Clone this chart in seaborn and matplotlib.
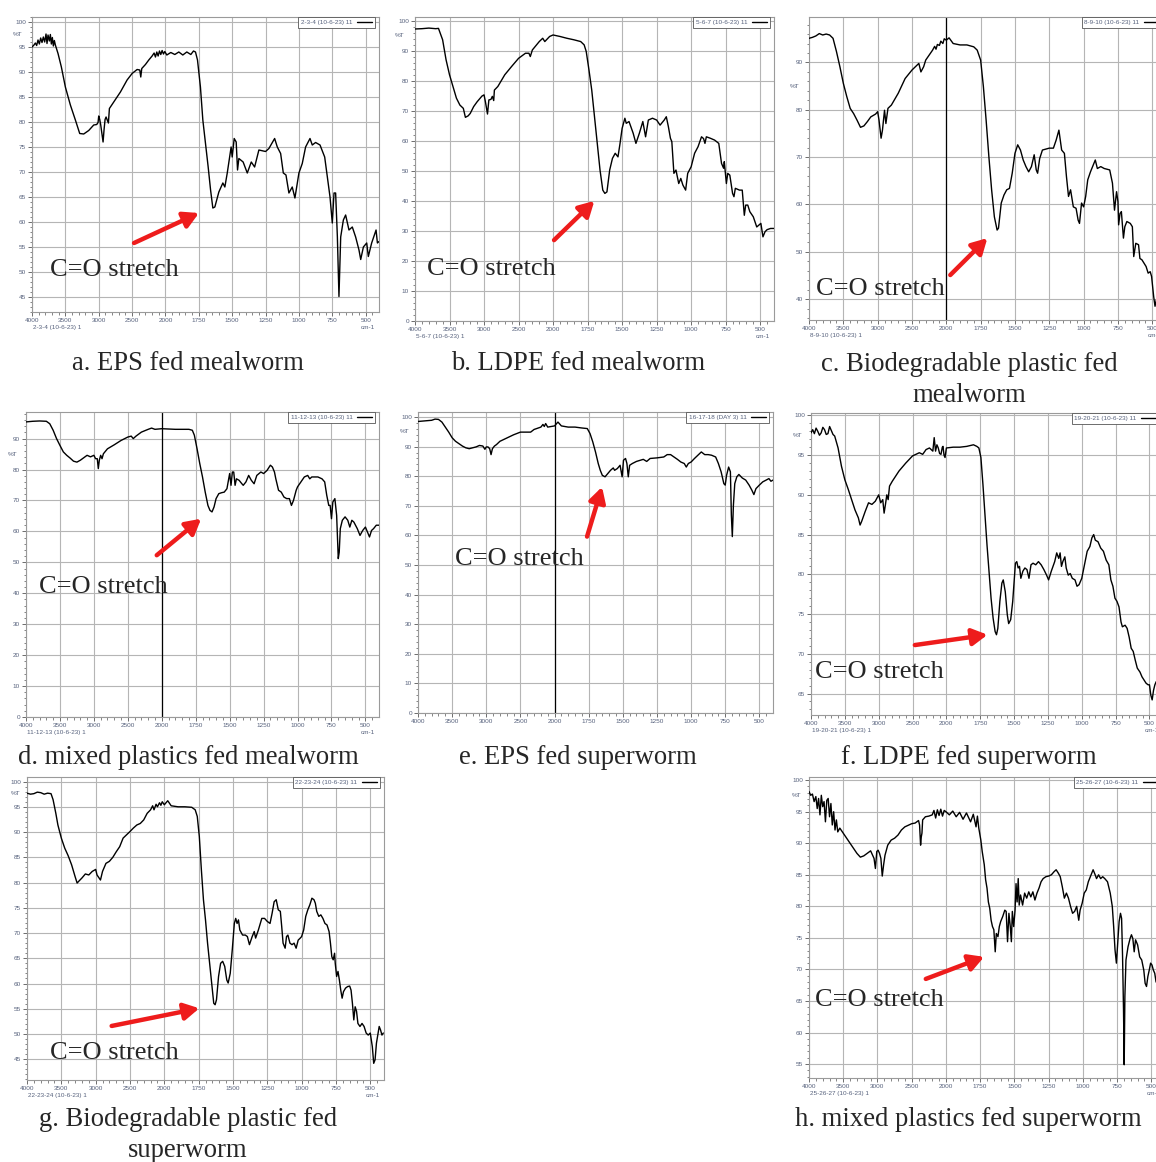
import numpy as np
import pandas as pd
import matplotlib
matplotlib.use("Agg")
import matplotlib.pyplot as plt
from matplotlib.ticker import FixedLocator, MultipleLocator
from matplotlib.transforms import blended_transform_factory
import seaborn as sns

# ---------------- FTIR spectra: (wavenumber cm-1, %T) ----------------
a_spec = [(4000,95.0),(3970,95.4),(3950,95.8),(3930,95.3),(3910,96.4),(3890,95.6),(3870,96.8),(3850,95.9),
          (3830,97.0),(3810,96.0),(3790,97.6),(3775,95.7),(3760,97.4),(3740,96.2),(3725,97.5),(3710,95.6),
          (3695,96.9),(3680,95.2),(3665,96.3),(3650,95.4),(3610,93.7),(3560,91.0),(3500,87.0),(3425,83.4),
          (3350,80.4),(3285,77.7),(3225,77.6),(3150,78.3),(3075,79.4),(3030,79.5),(3010,79.9),(3000,81.2),
          (2985,80.5),(2970,79.4),(2950,77.5),(2935,76.0),(2920,78.5),(2905,80.5),(2890,81.0),(2870,80.3),
          (2855,79.8),(2840,82.7),(2775,84.0),(2675,86.0),(2575,88.4),(2500,89.7),(2425,90.5),(2385,90.4),
          (2370,89.0),(2355,90.7),(2300,91.5),(2250,92.4),(2200,93.2),(2170,93.8),(2150,93.0),(2130,94.0),
          (2110,93.2),(2090,94.2),(2070,93.5),(2050,94.3),(2030,93.6),(2010,94.1),(1990,93.4),(1960,93.9),
          (1930,93.5),(1900,94.0),(1870,93.4),(1840,94.0),(1810,93.5),(1790,94.2),(1775,94.0),(1760,92.4),
          (1738,87.0),(1720,80.4),(1700,75.7),(1680,71.0),(1662,66.4),(1645,62.8),(1630,63.0),(1615,64.5),
          (1600,66.0),(1570,67.8),(1555,67.0),(1537,69.8),(1525,72.0),(1508,75.0),(1500,73.0),(1485,76.7),
          (1470,76.0),(1460,70.4),(1450,72.7),(1418,72.0),(1387,69.8),(1357,72.0),(1332,71.0),(1300,74.4),
          (1250,74.1),(1225,74.7),(1182,76.7),(1162,75.0),(1137,73.7),(1117,69.8),(1097,69.4),(1075,65.8),
          (1050,67.0),(1030,64.8),(1000,69.8),(975,71.7),(950,75.0),(917,76.7),(900,75.4),(875,75.9),
          (842,75.4),(807,73.0),(787,69.0),(767,65.0),(750,59.8),(737,65.8),(725,65.8),(712,57.1),
          (700,45.1),(687,57.0),(667,60.4),(650,61.4),(625,58.4),(600,59.0),(575,57.0),(550,54.4),
          (537,52.5),(517,55.0),(492,55.8),(480,53.1),(455,55.8),(430,57.8),(422,58.4),(412,55.8),(400,56.1)]

b_spec = [(4000,97.5),(3900,97.6),(3800,97.8),(3700,97.6),(3660,97.7),(3600,93.9),(3550,87.2),(3500,82.2),
          (3450,78.3),(3400,74.4),(3350,72.1),(3300,71.0),(3270,68.0),(3230,68.5),(3200,69.3),(3150,71.6),
          (3100,73.2),(3030,75.1),(3000,75.5),(2980,73.2),(2950,69.1),(2930,73.8),(2900,74.0),(2880,75.0),
          (2860,73.6),(2850,77.1),(2800,78.3),(2700,82.2),(2600,85.0),(2500,87.7),(2400,89.4),(2350,89.4),
          (2330,88.3),(2300,90.5),(2200,93.3),(2150,94.4),(2120,93.3),(2050,95.0),(2000,95.5),(1950,95.0),
          (1900,94.4),(1850,93.9),(1800,93.3),(1775,92.2),(1760,90.0),(1740,83.8),(1720,77.1),(1700,68.2),
          (1680,59.3),(1660,50.4),(1640,43.7),(1625,42.6),(1610,43.1),(1590,50.4),(1570,54.3),(1550,56.0),
          (1530,54.8),(1515,59.3),(1500,64.3),(1480,67.7),(1470,66.0),(1450,66.6),(1420,62.7),(1400,59.3),
          (1375,62.7),(1350,66.6),(1330,61.5),(1310,67.1),(1280,67.7),(1250,67.1),(1225,65.4),(1195,67.1),
          (1180,68.2),(1165,64.9),(1150,61.0),(1140,59.9),(1125,49.3),(1110,50.4),(1090,45.9),(1075,47.6),
          (1060,45.4),(1040,43.7),(1025,49.3),(1000,51.5),(975,56.0),(950,58.2),(925,61.5),(910,60.9),
          (900,59.3),(890,61.5),(860,61.0),(830,60.4),(800,59.3),(780,52.6),(765,51.0),(760,53.2),
          (745,45.9),(735,49.3),(720,48.7),(700,42.6),(690,41.5),(680,44.3),(650,43.7),(630,43.7),
          (615,35.3),(605,38.7),(590,38.7),(575,36.5),(550,34.8),(525,31.4),(510,32.0),(495,32.6),
          (480,28.1),(465,29.8),(450,30.5),(425,30.9),(400,30.9)]

c_spec = [(4000,95.1),(3950,95.3),(3900,95.6),(3850,96.1),(3800,95.8),(3750,96.0),(3700,95.8),(3650,95.1),
          (3600,92.3),(3550,89.1),(3500,85.6),(3450,82.8),(3400,80.3),(3350,79.2),(3300,77.8),(3250,76.3),
          (3200,76.6),(3150,77.5),(3100,78.5),(3030,79.1),(3000,79.6),(2980,77.8),(2950,74.0),(2930,75.7),
          (2900,79.9),(2880,77.1),(2850,80.3),(2800,81.0),(2700,83.5),(2600,86.6),(2500,88.4),(2450,89.1),
          (2400,89.8),(2370,88.0),(2330,89.1),(2300,90.5),(2200,92.6),(2170,93.4),(2150,92.8),(2130,93.8),
          (2100,93.6),(2080,94.5),(2050,94.0),(2030,95.0),(2000,94.7),(1980,95.2),(1950,94.0),(1900,93.7),
          (1850,93.7),(1800,93.3),(1775,92.6),(1750,90.5),(1730,84.9),(1710,77.8),(1690,70.1),(1670,63.1),
          (1650,57.4),(1630,54.6),(1620,55.0),(1600,60.3),(1580,62.0),(1560,63.1),(1540,63.4),(1520,66.6),
          (1500,70.8),(1480,72.6),(1460,71.5),(1440,69.4),(1420,68.0),(1400,66.9),(1380,68.0),(1360,70.5),
          (1345,67.3),(1335,66.6),(1320,69.7),(1300,71.5),(1250,71.9),(1220,71.9),(1200,73.6),(1180,75.7),
          (1160,71.5),(1140,70.8),(1125,65.9),(1110,61.7),(1095,63.1),(1075,59.5),(1055,59.2),(1040,56.7),
          (1030,56.0),(1015,60.3),(1000,59.5),(985,61.7),(970,65.2),(950,66.9),(930,68.3),(915,69.4),
          (900,67.6),(875,68.0),(850,67.6),(810,67.3),(790,64.5),(775,58.8),(760,62.7),(750,60.6),
          (745,55.7),(735,58.1),(725,58.5),(710,52.9),(700,55.3),(685,56.4),(660,56.0),(645,55.3),
          (635,49.0),(620,51.8),(600,51.5),(590,48.6),(575,48.3),(560,47.6),(545,46.9),(530,45.5),
          (515,45.8),(505,44.8),(490,40.6),(480,38.5),(470,39.9),(450,38.8),(425,38.0),(400,37.5)]

d_spec = [(4000,95.4),(3900,95.6),(3800,95.7),(3700,95.6),(3650,94.8),(3600,92.7),(3550,90.0),(3500,87.8),
          (3450,85.7),(3400,84.6),(3350,83.7),(3300,82.7),(3250,82.4),(3200,83.0),(3100,84.6),(3050,84.1),
          (3000,84.6),(2975,83.5),(2950,83.5),(2935,80.3),(2920,83.0),(2900,84.6),(2880,83.5),(2860,85.1),
          (2800,86.7),(2700,88.0),(2600,89.4),(2500,90.5),(2450,90.8),(2420,90.0),(2380,90.8),(2300,92.1),
          (2200,93.0),(2150,93.4),(2100,93.0),(2000,93.2),(1900,93.0),(1800,93.0),(1775,92.7),(1760,91.1),
          (1740,86.7),(1720,81.9),(1700,77.6),(1680,72.7),(1660,68.4),(1645,66.8),(1630,66.3),(1615,67.9),
          (1600,70.6),(1580,72.2),(1560,72.5),(1540,72.7),(1520,73.8),(1500,78.7),(1490,74.9),(1480,79.2),
          (1470,79.2),(1460,74.9),(1450,77.0),(1430,76.5),(1410,75.4),(1400,74.9),(1380,76.0),(1360,78.1),
          (1340,76.5),(1320,75.4),(1300,78.1),(1270,79.2),(1250,78.7),(1225,79.7),(1200,81.4),(1185,80.8),
          (1170,79.2),(1160,77.0),(1140,73.3),(1120,72.7),(1100,71.1),(1080,70.6),(1060,70.6),(1045,68.4),
          (1030,70.0),(1010,73.3),(1000,74.4),(975,76.0),(950,77.6),(925,78.1),(910,77.0),(895,77.6),
          (875,77.6),(850,77.6),(820,77.0),(800,76.0),(785,71.7),(770,68.4),(760,68.4),(750,64.1),
          (740,69.5),(725,70.6),(712,65.2),(700,51.2),(693,53.3),(685,60.9),(670,63.6),(650,64.7),
          (630,63.6),(615,61.4),(600,63.6),(585,63.0),(560,60.9),(540,58.7),(520,60.3),(500,61.4),
          (485,59.8),(470,58.2),(455,60.3),(440,60.9),(420,62.0),(400,62.0)]

e_spec = [(4000,98.5),(3900,98.7),(3800,98.9),(3750,99.3),(3700,99.2),(3650,98.3),(3600,96.6),(3550,94.9),
          (3500,93.0),(3450,91.8),(3400,91.0),(3350,90.2),(3300,89.6),(3250,89.3),(3200,89.6),(3150,89.9),
          (3100,90.4),(3050,90.2),(3020,89.1),(3000,89.9),(2975,89.9),(2950,89.3),(2930,87.3),(2910,89.3),
          (2880,90.2),(2850,90.7),(2800,91.8),(2700,92.9),(2600,94.0),(2500,94.9),(2400,94.9),(2350,94.9),
          (2300,95.8),(2200,96.6),(2170,97.5),(2150,96.8),(2130,97.8),(2100,96.6),(2000,97.0),(1975,98.3),
          (1950,97.0),(1900,96.6),(1850,96.6),(1800,96.3),(1760,96.1),(1740,94.4),(1720,91.6),(1700,88.2),
          (1680,84.3),(1665,82.0),(1650,80.3),(1630,79.8),(1610,80.9),(1590,82.0),(1570,82.8),(1560,82.0),
          (1540,82.6),(1520,83.7),(1505,79.8),(1495,85.4),(1480,86.0),(1470,84.3),(1460,79.8),(1450,83.7),
          (1430,84.3),(1400,85.0),(1350,85.7),(1325,85.0),(1300,86.0),(1250,86.2),(1200,86.5),(1175,87.3),
          (1150,87.3),(1125,86.5),(1100,85.7),(1075,84.8),(1050,84.3),(1035,83.1),(1020,84.3),(1000,84.8),
          (975,86.0),(950,87.1),(925,88.2),(900,87.3),(875,87.3),(850,87.1),(820,86.5),(800,84.3),
          (780,81.5),(760,77.5),(750,77.0),(740,80.3),(725,83.1),(712,81.5),(705,66.9),(698,59.6),
          (690,70.2),(680,77.5),(665,79.8),(650,80.6),(625,79.4),(600,78.7),(575,77.0),(555,75.3),
          (540,73.8),(525,75.8),(500,77.0),(475,78.1),(450,78.7),(430,79.2),(415,78.3),(400,78.7)]

f_spec = [(4000,97.8),(3975,98.2),(3950,97.7),(3925,98.4),(3900,98.0),(3875,97.5),(3850,97.8),(3825,98.5),
          (3800,98.2),(3775,97.6),(3750,97.7),(3725,98.6),(3700,98.1),(3675,97.6),(3650,97.4),(3600,95.9),
          (3550,93.6),(3500,91.9),(3450,90.7),(3400,89.4),(3350,88.1),(3300,87.1),(3275,86.2),(3250,86.7),
          (3200,87.9),(3150,89.0),(3100,88.8),(3050,89.2),(3000,90.0),(2970,89.0),(2940,89.4),(2920,87.7),
          (2900,88.8),(2880,90.0),(2860,89.4),(2840,91.1),(2800,91.7),(2700,93.0),(2600,94.0),(2500,94.9),
          (2450,95.1),(2400,95.3),(2350,95.1),(2300,95.7),(2250,95.9),(2200,95.5),(2180,97.2),(2160,95.5),
          (2140,96.3),(2120,95.9),(2100,95.2),(2080,95.1),(2060,96.0),(2050,96.1),(2035,95.0),(2020,94.7),
          (2000,95.9),(1950,96.0),(1900,96.0),(1850,96.1),(1800,96.3),(1775,96.1),(1760,95.9),(1745,94.7),
          (1730,91.3),(1715,87.5),(1700,83.7),(1685,80.4),(1670,77.0),(1655,74.5),(1640,72.8),(1630,72.4),
          (1620,73.2),(1605,76.6),(1590,78.9),(1580,79.3),(1565,77.8),(1550,74.9),(1540,73.8),(1525,74.3),
          (1510,76.6),(1500,79.1),(1490,81.4),(1480,81.6),(1470,80.8),(1460,81.0),(1450,79.5),(1435,80.4),
          (1420,80.8),(1405,80.6),(1390,79.5),(1375,81.2),(1360,81.4),(1340,81.2),(1320,81.6),(1300,81.2),
          (1280,80.6),(1260,79.9),(1245,79.3),(1225,80.4),(1200,81.6),(1185,82.7),(1170,82.0),(1160,82.7),
          (1150,81.0),(1140,81.6),(1125,82.2),(1115,80.8),(1100,79.9),(1085,80.1),(1070,79.5),(1050,79.3),
          (1035,78.5),(1020,78.7),(1000,79.5),(980,81.2),(960,82.9),(940,83.5),(925,84.6),(912,85.0),
          (900,84.3),(880,84.1),(860,83.3),(840,82.9),(820,81.8),(800,81.2),(785,79.3),(770,78.5),
          (755,77.0),(740,76.6),(725,75.9),(710,74.0),(700,73.4),(680,73.6),(665,73.2),(650,72.1),
          (635,70.7),(620,70.3),(605,69.2),(590,68.2),(570,67.7),(555,67.1),(540,66.7),(525,66.3),
          (510,66.1),(500,66.1),(490,64.8),(480,64.2),(470,65.4),(460,66.1),(450,66.5),(425,66.6),(400,66.4)]

g_spec = [(4000,97.7),(3950,97.5),(3900,97.6),(3850,97.9),(3800,97.8),(3750,97.5),(3700,97.7),(3650,97.6),
          (3620,96.4),(3580,93.7),(3550,91.4),(3500,88.8),(3450,86.8),(3400,85.3),(3350,83.5),(3300,81.2),
          (3270,79.9),(3250,80.2),(3200,80.9),(3150,81.7),(3100,81.5),(3050,82.2),(3000,82.6),(2980,81.5),
          (2950,80.9),(2930,80.5),(2900,82.2),(2850,83.8),(2800,84.2),(2750,85.0),(2700,86.1),(2650,87.1),
          (2600,88.8),(2500,90.1),(2450,90.8),(2400,91.4),(2350,91.7),(2300,92.4),(2250,93.7),(2200,94.4),
          (2170,95.2),(2150,94.4),(2120,95.5),(2100,95.0),(2070,95.8),(2050,95.3),(2030,96.0),(2000,95.4),
          (1975,96.2),(1950,95.2),(1900,95.0),(1850,95.0),(1800,94.9),(1775,94.4),(1760,93.1),(1745,89.1),
          (1730,82.5),(1715,76.6),(1700,72.6),(1685,68.0),(1670,64.0),(1655,60.1),(1640,56.1),(1630,55.8),
          (1620,56.8),(1605,61.4),(1590,64.0),(1575,64.4),(1560,63.4),(1545,60.7),(1535,60.1),(1520,62.0),
          (1505,66.7),(1490,71.9),(1480,72.9),(1470,71.9),(1460,72.6),(1450,70.6),(1430,69.6),(1410,69.6),
          (1395,69.3),(1380,67.7),(1360,69.3),(1345,70.3),(1335,69.0),(1315,70.6),(1290,72.9),(1270,72.9),
          (1250,72.3),(1230,71.9),(1215,73.9),(1200,76.2),(1185,76.6),(1170,74.6),(1155,74.3),(1145,71.3),
          (1135,68.0),(1120,67.0),(1110,69.3),(1100,69.6),(1085,68.0),(1070,67.7),(1055,68.0),(1040,67.0),
          (1025,68.6),(1010,69.0),(1000,69.3),(985,70.6),(970,73.3),(955,74.6),(940,75.6),(925,76.9),
          (910,76.6),(900,75.9),(890,74.3),(875,73.3),(860,73.6),(845,72.9),(830,71.9),(815,71.6),
          (800,70.3),(790,68.0),(780,65.3),(770,64.7),(760,66.0),(755,64.0),(745,61.4),(735,62.4),
          (725,60.7),(715,58.7),(705,57.1),(695,58.4),(680,59.1),(665,59.4),(650,59.5),(640,58.7),
          (630,56.1),(620,52.8),(610,55.4),(600,54.5),(590,52.1),(575,51.5),(560,52.1),(545,51.5),
          (530,50.2),(515,49.8),(500,50.2),(485,47.5),(475,44.2),(465,44.9),(455,48.2),(445,49.8),
          (435,51.5),(425,50.8),(415,49.8),(405,50.2)]

h_spec = [(4000,98.2),(3975,97.6),(3950,97.8),(3925,96.6),(3900,97.4),(3880,95.5),(3860,97.1),(3840,94.5),
          (3820,97.6),(3800,95.8),(3780,96.6),(3760,93.4),(3740,96.8),(3720,97.1),(3700,94.2),(3680,96.3),
          (3660,92.9),(3640,95.0),(3620,92.1),(3600,93.7),(3580,91.8),(3550,92.4),(3500,91.6),(3450,90.8),
          (3400,90.0),(3350,89.2),(3300,88.4),(3250,87.8),(3200,88.0),(3150,88.4),(3100,88.8),(3070,88.1),
          (3050,87.6),(3030,86.0),(3010,88.7),(2990,88.9),(2970,88.4),(2950,87.6),(2930,84.8),(2910,86.6),
          (2890,88.1),(2870,88.9),(2850,89.7),(2800,90.5),(2750,90.8),(2700,91.3),(2650,92.1),(2600,92.6),
          (2500,93.1),(2450,93.2),(2400,93.6),(2385,92.9),(2370,89.7),(2360,91.0),(2350,91.6),(2340,93.7),
          (2300,94.2),(2250,94.3),(2200,94.5),(2175,95.2),(2150,94.0),(2125,95.3),(2100,94.4),(2075,95.4),
          (2050,94.3),(2025,95.2),(2000,95.0),(1975,94.5),(1950,95.1),(1925,94.2),(1900,94.9),(1875,93.8),
          (1850,94.8),(1820,93.4),(1800,94.6),(1780,92.6),(1770,94.3),(1760,92.4),(1745,90.5),(1735,88.7),
          (1720,86.6),(1710,84.2),(1700,82.9),(1690,80.7),(1680,79.7),(1670,77.8),(1660,76.8),(1650,76.3),
          (1640,72.8),(1632,75.7),(1620,75.2),(1610,76.8),(1600,77.6),(1585,78.4),(1570,79.4),(1560,79.2),
          (1550,74.4),(1540,78.9),(1530,76.8),(1522,74.4),(1515,79.2),(1505,76.8),(1495,79.4),(1488,83.6),
          (1480,80.7),(1472,84.4),(1465,80.2),(1455,81.8),(1440,80.2),(1425,82.1),(1410,81.3),(1395,82.3),
          (1380,81.5),(1365,82.3),(1350,81.0),(1335,82.1),(1320,82.9),(1305,83.9),(1290,84.4),(1270,84.7),
          (1250,84.8),(1230,85.0),(1210,85.5),(1195,85.8),(1180,85.3),(1165,84.7),(1150,83.1),(1135,81.3),
          (1120,82.1),(1105,81.3),(1090,80.0),(1075,78.9),(1060,79.2),(1045,80.0),(1030,77.8),(1020,79.4),
          (1005,80.5),(990,82.1),(975,82.6),(960,83.9),(945,84.7),(925,85.8),(910,85.0),(900,84.4),
          (885,85.0),(870,84.4),(855,84.7),(840,84.4),(820,83.9),(800,82.1),(785,80.0),(775,76.8),
          (765,73.1),(755,71.0),(745,74.2),(735,77.6),(725,78.9),(717,78.1),(710,72.1),(703,63.6),
          (698,54.9),(693,65.7),(685,71.5),(670,73.6),(655,74.9),(645,75.5),(635,74.9),(625,72.8),
          (615,74.7),(600,73.9),(585,72.0),(570,71.5),(555,69.9),(545,67.8),(535,67.3),(525,68.9),
          (515,69.9),(505,71.0),(495,70.7),(485,69.9),(475,69.4),(465,68.0),(455,69.9),(430,69.9),(400,69.4)]

# sample codes shown in the instrument legend / footer
sample_tags = ["2-3-4 (10-6-23)", "5-6-7 (10-6-23)", "8-9-10 (10-6-23)", "11-12-13 (10-6-23)",
               "16-17-18 (DAY 3)", "19-20-21 (10-6-23)", "22-23-24 (10-6-23)", "25-26-27 (10-6-23)"]

captions = ["a. EPS fed mealworm", "b. LDPE fed mealworm", "c. Biodegradable plastic fed\nmealworm",
            "d. mixed plastics fed mealworm", "e. EPS fed superworm", "f. LDPE fed superworm",
            "g. Biodegradable plastic fed\nsuperworm", "h. mixed plastics fed superworm"]

x_major = [4000, 3500, 3000, 2500, 2000, 1750, 1500, 1250, 1000, 750, 500]

# ---------------- layout (pixel boxes on a 1156 x 1162 canvas) ----------------
W, H = 1156, 1162
layout = [
    dict(spec=a_spec, box=(32, 17, 379, 312), ylim=(42, 101), ystep=5, ymin=1, pt=(-0.043, 97.5),
         arrow=((2471, 55.8), (1749, 61.8)), note=(3727, 50.3), cursor=False, foot=True, cap=(188, 363)),
    dict(spec=b_spec, box=(415, 17, 774, 321), ylim=(0, 101.5), ystep=10, ymin=2, pt=(-0.042, 95.2),
         arrow=((1993, 27.0), (1701, 40.1)), note=(3819, 17.5), cursor=False, foot=True, cap=(578, 363)),
    dict(spec=c_spec, box=(809, 17, 1166, 320), ylim=(35.6, 99.6), ystep=10, ymin=2, pt=(-0.04, 85.0),
         arrow=((1971, 45.1), (1701, 52.9)), note=(3896, 42.1), cursor=True, foot=True, cap=(969, 380)),
    dict(spec=d_spec, box=(26, 412, 379, 717), ylim=(0, 98.6), ystep=10, ymin=2, pt=(-0.038, 84.8),
         arrow=((2074, 52.3), (1710, 64.1)), note=(3812, 42.0), cursor=True, foot=True, cap=(188, 758)),
    dict(spec=e_spec, box=(418, 412, 773, 713), ylim=(0, 101.7), ystep=10, ymin=2, pt=(-0.038, 95.2),
         arrow=((1762, 59.6), (1652, 76.4)), note=(3461, 52.0), cursor=True, foot=False, cap=(578, 758)),
    dict(spec=f_spec, box=(811, 413, 1163, 715), ylim=(62.3, 100.3), ystep=5, ymin=1, pt=(-0.037, 97.5),
         arrow=((2466, 71.1), (1696, 72.4)), note=(3940, 67.7), cursor=False, foot=True, cap=(969, 758)),
    dict(spec=g_spec, box=(27, 777, 384, 1080), ylim=(40.9, 100.9), ystep=5, ymin=1, pt=(-0.033, 97.6),
         arrow=((2767, 51.6), (1745, 55.1)), note=(3667, 46.3), cursor=False, foot=True, cap=(188, 1135)),
    dict(spec=h_spec, box=(809, 777, 1165, 1078), ylim=(52.8, 100.5), ystep=5, ymin=1, pt=(-0.035, 97.6),
         arrow=((2294, 68.5), (1721, 72.0)), note=(3917, 65.2), cursor=False, foot=True, cap=(968, 1119)),
]

sns.set_style("white")
plt.rcParams["font.family"] = ["Liberation Sans", "DejaVu Sans"]

TICK_COL = "#56617c"
GRID_COL = "#b5b5b5"
SERIF = "Liberation Serif"


# piecewise wavenumber axis: 500 cm-1 per division above 2000, 250 cm-1 below
def _fwd(w):
    w = np.asarray(w, dtype=float)
    return np.where(w <= 2000, w / 250.0, 8.0 + (w - 2000.0) / 500.0)


def _inv(u):
    u = np.asarray(u, dtype=float)
    return np.where(u <= 8.0, u * 250.0, 2000.0 + (u - 8.0) * 500.0)


x_minor = [v for v in range(3900, 2000, -100) if v not in x_major] + \
          [v for v in range(1950, 400, -50) if v not in x_major]

fig = plt.figure(figsize=(W / 100, H / 100), dpi=100)
fig.patch.set_facecolor("white")

for tag, cap, p in zip(sample_tags, captions, layout):
    l, t, r, b = p["box"]
    ax = fig.add_axes([l / W, 1 - b / H, (r - l) / W, (b - t) / H])
    df = pd.DataFrame(p["spec"], columns=["wavenumber", "T"])
    sns.lineplot(data=df, x="wavenumber", y="T", ax=ax, sort=False, estimator=None,
                 color="black", lw=1.0, label=f"{tag} 11", zorder=3)

    ax.set_xscale("function", functions=(_fwd, _inv))
    ax.set_xlim(4000, 400)
    ax.set_ylim(*p["ylim"])

    ax.xaxis.set_major_locator(FixedLocator(x_major))
    ax.set_xticklabels([str(v) for v in x_major])
    ax.xaxis.set_minor_locator(FixedLocator(x_minor))
    lo = np.ceil(p["ylim"][0] / p["ystep"]) * p["ystep"]
    ax.yaxis.set_major_locator(FixedLocator(np.arange(lo, p["ylim"][1] + 0.01, p["ystep"])))
    ax.yaxis.set_minor_locator(MultipleLocator(p["ymin"]))
    ax.yaxis.set_major_formatter(plt.FuncFormatter(lambda v, _: f"{v:.0f}"))

    ax.set_xlabel("")
    ax.set_ylabel("")
    ax.grid(True, which="major", color=GRID_COL, lw=0.8)
    ax.set_axisbelow(True)
    ax.tick_params(which="major", length=3.2, width=0.6, color="#555555", labelsize=4.6,
                   labelcolor=TICK_COL, pad=1.2)
    ax.tick_params(which="minor", length=1.8, width=0.5, color="#555555")
    ax.tick_params(axis="x", which="both", bottom=True)
    ax.tick_params(axis="y", which="both", left=True)
    for s in ax.spines.values():
        s.set_color("#9a9a9a")
        s.set_linewidth(0.8)

    if p["cursor"]:
        ax.axvline(2000, color="black", lw=0.9, zorder=2)

    leg = ax.legend(loc="upper right", bbox_to_anchor=(0.988, 1.0), borderaxespad=0,
                    fontsize=4.6, frameon=True, fancybox=False, edgecolor="#555555",
                    framealpha=1, handlelength=2.4, handletextpad=0.7, borderpad=0.4,
                    markerfirst=False)
    leg.get_frame().set_linewidth(0.6)
    for txt in leg.get_texts():
        txt.set_color(TICK_COL)

    trans = blended_transform_factory(ax.transAxes, ax.transData)
    ax.text(p["pt"][0], p["pt"][1], "%T", transform=trans, fontsize=4.6, color=TICK_COL,
            ha="center", va="center")

    if p["foot"]:
        ax.annotate(f"{tag} 1", xy=(0, 0), xycoords="axes fraction", xytext=(1, -11.5),
                    textcoords="offset points", fontsize=4.6, color=TICK_COL, ha="left", va="center")
        ax.annotate("cm-1", xy=(1, 0), xycoords="axes fraction", xytext=(-3, -11.5),
                    textcoords="offset points", fontsize=4.6, color=TICK_COL, ha="right", va="center")

    (x0, y0), (x1, y1) = p["arrow"]
    ax.annotate("", xy=(x1, y1), xytext=(x0, y0),
                arrowprops=dict(arrowstyle="-|>,head_length=0.9,head_width=0.5",
                                color="#ee1c1c", lw=3.2, shrinkA=0, shrinkB=0), zorder=5)
    ax.text(p["note"][0], p["note"][1], "C=O stretch", family=SERIF, fontsize=19,
            ha="left", va="center", zorder=6)

    fig.text(p["cap"][0] / W, 1 - p["cap"][1] / H, cap, family=SERIF, fontsize=19.2,
             ha="center", va="center", linespacing=1.32)

fig.savefig("out.png", dpi=100, facecolor="white")
